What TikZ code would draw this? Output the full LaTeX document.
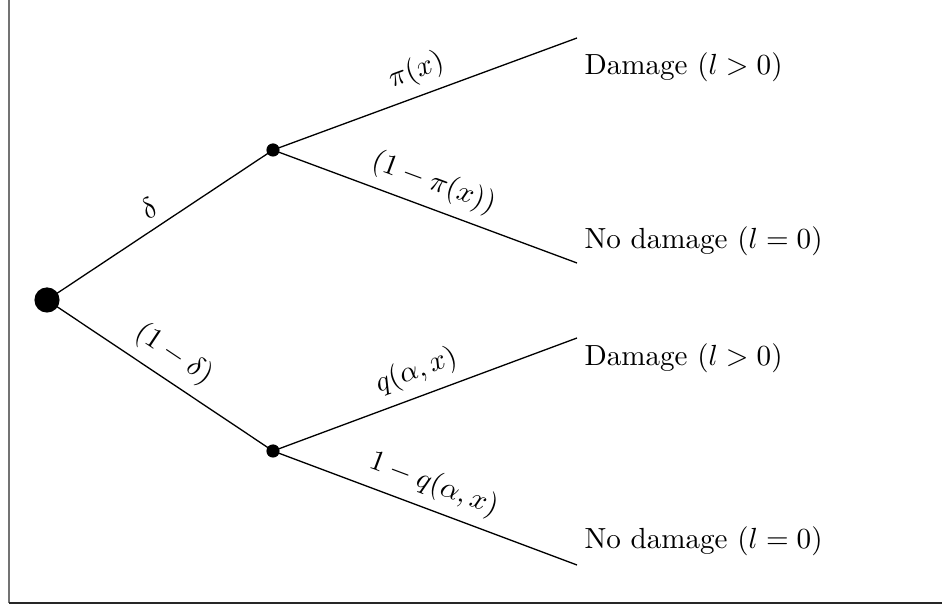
\documentclass[tikz,border=0pt]{standalone}
\usepackage{amsmath,amssymb}
\usepackage{xcolor}
\usetikzlibrary{positioning,calc}

\begin{document}
\begin{tikzpicture}[x=0.3436pt, y=-0.3436pt,
    branch/.style={line width=0.45pt},
    outcome/.style={anchor=west, inner sep=0pt}]
  \useasboundingbox (0,0) rectangle (942,607);
  % frame
  \draw[line width=0.7pt, gray!110] (9,0) -- (9,603);
  \draw[line width=0.7pt, black!85] (9,603) -- (942,603);

  % decision points
  \coordinate (R) at (47,300);
  \coordinate (A) at (273,150);
  \coordinate (B) at (273,451);
  \coordinate (A1) at (577,38);
  \coordinate (A2) at (577,263);
  \coordinate (B1) at (577,338);
  \coordinate (B2) at (577,565);

  % branches
  \draw[branch] (R) -- node[midway, above, sloped] {$\delta$} (A);
  \draw[branch] (R) -- node[midway, above, sloped] {$(1-\delta)$} (B);
  \draw[branch] (A) -- node[midway, above, sloped] {$\pi(x)$} (A1);
  \draw[branch] (A) -- node[midway, above, sloped] {$(1-\pi(x))$} (A2);
  \draw[branch] (B) -- node[midway, above, sloped] {$q(\alpha,x)$} (B1);
  \draw[branch] (B) -- node[midway, above, sloped] {$1-q(\alpha,x)$} (B2);

  \filldraw (R) circle (12);
  \filldraw (A) circle (6);
  \filldraw (B) circle (6);

  % outcomes
  \node[outcome] (dA) at (584,67) {Damage ($l>0$)};
  \node[outcome] (nA) at (584,241) {No damage ($l=0$)};
  \node[outcome] (dB) at (584,358) {Damage ($l>0$)};
  \node[outcome] (nB) at (584,541) {No damage ($l=0$)};
\end{tikzpicture}
\end{document}
